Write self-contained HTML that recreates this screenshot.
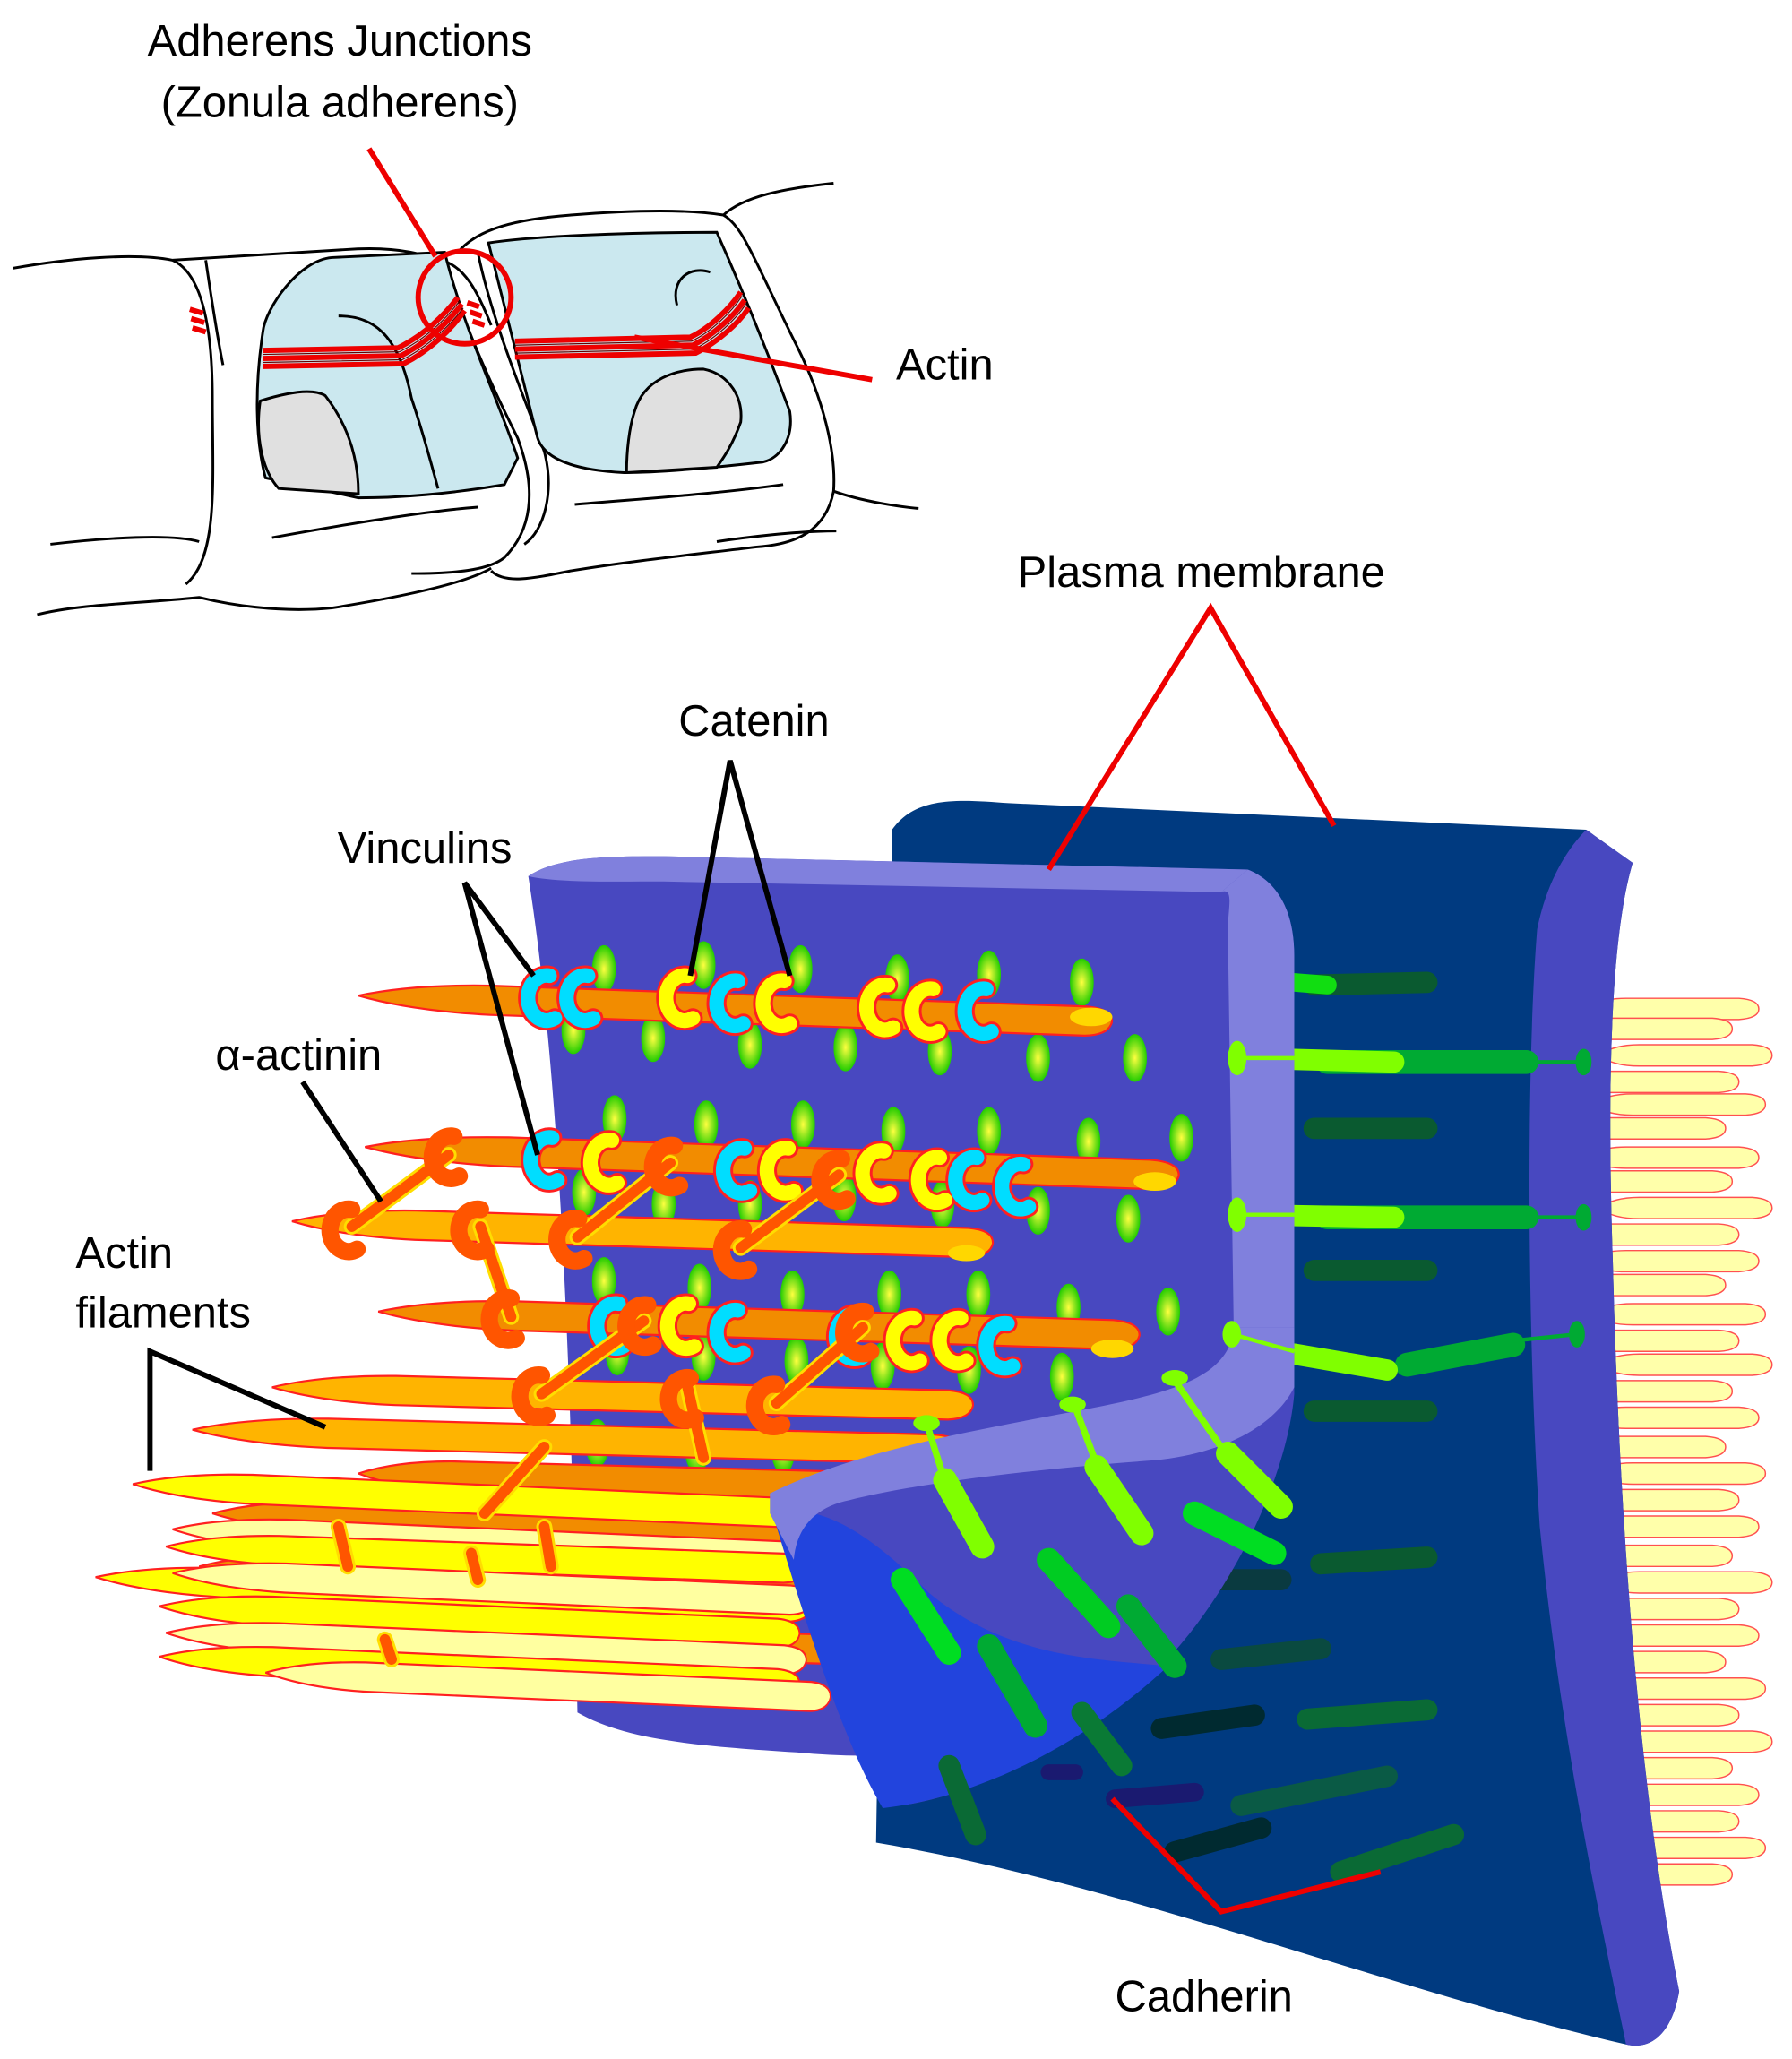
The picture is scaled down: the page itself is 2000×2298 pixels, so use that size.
<!DOCTYPE html>
<html><head><meta charset="utf-8"><style>
html,body{margin:0;padding:0;background:#fff}
svg{display:block}
text{font-family:"Liberation Sans",sans-serif;fill:#000}
</style></head><body>
<svg width="2000" height="2298" viewBox="0 0 1350 1551" preserveAspectRatio="none" xmlns="http://www.w3.org/2000/svg">
<defs>
<radialGradient id="gd" cx="0.5" cy="0.5" r="0.5"><stop offset="0" stop-color="#ffff40"/><stop offset="1" stop-color="#22cc00"/></radialGradient>
<path id="fil" d="M0,0 Q40,-10 100,-11 L548,-11 Q568,-10 568,0 Q566,10 548,11 L100,11 Q40,10 0,0 Z"/>
<ellipse id="dot" rx="9" ry="18" fill="url(#gd)"/>
<path id="pf" d="M0,0 Q10,-8 30,-8 L115,-8 Q130,-7 130,0 Q130,7 115,8 L30,8 Q10,8 0,0Z" fill="#ffffaa" stroke="#ff5050" stroke-width="1"/>
</defs>

<!-- ===== TOP SKETCH ===== -->
<g fill="none" stroke="#000" stroke-width="2">
<path d="M10,202 C50,195 100,190 130,196"/>
<path d="M130,196 C150,205 160,240 160,300 C160,360 165,420 140,440"/>
<path d="M38,410 C80,405 130,402 150,408"/>
<path d="M28,463 C60,455 100,455 150,450 C170,455 210,462 250,458 C300,450 350,440 370,428"/>
<path d="M130,196 C150,195 200,192 260,188 C300,185 325,192 336,200"/>
<path d="M336,200 C345,230 360,270 390,330 C405,370 400,400 380,420 C370,428 350,432 310,432"/>
<path d="M155,196 C160,230 165,260 168,275"/>
<path d="M205,405 C260,395 320,385 360,382"/>
<path d="M345,190 C360,172 390,165 430,162 C480,158 520,158 545,162 C560,170 570,200 600,260 C620,300 630,340 628,370 C622,400 600,410 570,412 C520,418 480,422 430,430 C400,436 380,440 370,430"/>
<path d="M360,190 C370,240 395,300 410,340 C418,370 410,400 395,410"/>
<path d="M545,162 C560,148 590,142 628,138"/>
<path d="M628,370 C650,378 680,382 692,383"/>
<path d="M433,380 C480,376 540,372 590,365"/>
<path d="M540,408 C560,405 600,400 630,400"/>
<path d="M332,196 C350,200 360,220 370,245"/>
</g>
<path d="M198,250 C200,232 225,196 250,194 L335,190 C350,250 375,300 390,345 L380,365 C340,372 300,375 270,375 L200,360 C192,330 192,290 198,250Z" fill="#cbe8ef" stroke="#000" stroke-width="2"/>
<path d="M196,302 C215,296 235,292 245,298 C262,320 270,345 270,372 L210,368 C198,355 192,330 196,302Z" fill="#e0e0e0" stroke="#000" stroke-width="2"/>
<path d="M368,183 C400,178 470,175 540,175 C560,220 580,270 595,310 C598,330 588,345 575,348 C540,352 500,356 470,356 C430,354 410,345 405,330 C395,290 385,250 368,183Z" fill="#cbe8ef" stroke="#000" stroke-width="2"/>
<path d="M478,310 C485,285 510,278 530,278 C550,282 560,300 558,318 C552,335 545,345 540,352 L472,356 C472,340 474,322 478,310Z" fill="#e0e0e0" stroke="#000" stroke-width="2"/>
<g fill="none" stroke="#000" stroke-width="2">
<path d="M255,238 C280,238 300,250 310,300 C320,330 325,350 330,368"/>
<path d="M510,230 C505,210 520,200 535,205"/>
</g>
<g fill="none" stroke="#e00" stroke-width="4">
<path d="M198,264 L300,262 C320,252 335,237 345,224"/>
<path d="M198,270 L302,268 C322,258 338,242 348,229"/>
<path d="M198,276 L304,274 C324,264 340,248 350,234"/>
<path d="M388,257 L520,254 C535,247 550,232 558,220"/>
<path d="M388,263 L522,260 C538,252 553,238 561,226"/>
<path d="M388,269 L524,266 C540,258 556,244 564,232"/>
<path d="M143,233 l10,3 M144,240 l10,3 M145,247 l10,3"/>
<path d="M352,228 l9,3 M354,235 l9,3 M356,242 l9,3"/>
</g>
<g fill="none" stroke="#600" stroke-width="0.8">
<path d="M198,267 L301,265 C321,255 336,240 346,227"/>
<path d="M198,273 L303,271 C323,261 339,245 349,232"/>
<path d="M388,260 L521,257 C536,250 551,235 559,223"/>
<path d="M388,266 L523,263 C539,255 554,241 562,229"/>
</g>
<circle cx="350" cy="224" r="35" fill="none" stroke="#e00" stroke-width="4"/>
<line x1="278" y1="112" x2="328" y2="193" stroke="#e00" stroke-width="4"/>
<line x1="478" y1="254" x2="657" y2="286" stroke="#e00" stroke-width="4"/>
<text x="256" y="42" font-size="33" text-anchor="middle">Adherens Junctions</text>
<text x="256" y="88" font-size="33" text-anchor="middle">(Zonula adherens)</text>
<text x="675" y="286" font-size="33">Actin</text>

<!-- ===== RIGHT PALE FILAMENTS ===== -->
<g>
<use href="#pf" x="1195" y="760"/><use href="#pf" x="1175" y="775"/><use href="#pf" x="1205" y="795"/><use href="#pf" x="1180" y="815"/><use href="#pf" x="1200" y="832"/><use href="#pf" x="1170" y="850"/><use href="#pf" x="1195" y="872"/><use href="#pf" x="1175" y="890"/><use href="#pf" x="1205" y="910"/><use href="#pf" x="1180" y="930"/><use href="#pf" x="1195" y="950"/><use href="#pf" x="1170" y="968"/><use href="#pf" x="1200" y="990"/><use href="#pf" x="1180" y="1010"/><use href="#pf" x="1205" y="1028"/><use href="#pf" x="1175" y="1048"/><use href="#pf" x="1195" y="1068"/><use href="#pf" x="1170" y="1090"/><use href="#pf" x="1200" y="1110"/><use href="#pf" x="1180" y="1130"/><use href="#pf" x="1195" y="1150"/><use href="#pf" x="1175" y="1172"/><use href="#pf" x="1205" y="1192"/><use href="#pf" x="1180" y="1212"/><use href="#pf" x="1195" y="1232"/><use href="#pf" x="1170" y="1252"/><use href="#pf" x="1200" y="1272"/><use href="#pf" x="1180" y="1292"/><use href="#pf" x="1205" y="1312"/><use href="#pf" x="1175" y="1332"/><use href="#pf" x="1195" y="1352"/><use href="#pf" x="1180" y="1372"/><use href="#pf" x="1200" y="1392"/><use href="#pf" x="1175" y="1412"/>
</g>

<!-- ===== BACK MEMBRANE ===== -->
<path d="M672,625 C690,600 720,602 760,605 L1195,625 L1230,650 C1215,700 1210,800 1215,950 C1220,1150 1235,1350 1265,1500 C1260,1530 1245,1545 1225,1540 C1050,1500 850,1420 660,1388 Z" fill="#003a80"/>
<path d="M1195,625 L1230,650 C1215,700 1210,800 1215,950 C1220,1150 1235,1350 1265,1500 C1260,1530 1245,1545 1225,1540 C1200,1420 1175,1300 1160,1150 C1150,1000 1150,800 1158,700 C1165,665 1180,640 1195,625Z" fill="#4848c0"/>

<g stroke-linecap="round" fill="none">
<path d="M990,742 L1075,740" stroke="#0a5a30" stroke-width="16"/>
<path d="M975,740 L1000,742" stroke="#11dd11" stroke-width="14"/>
<path d="M1000,800 L1150,800" stroke="#00aa33" stroke-width="18"/>
<path d="M935,797 L1050,800" stroke="#80ff00" stroke-width="16"/>
<path d="M990,850 L1075,850" stroke="#0a5a30" stroke-width="16"/>
<path d="M1000,917 L1150,917" stroke="#00aa33" stroke-width="18"/>
<path d="M935,915 L1050,917" stroke="#80ff00" stroke-width="16"/>
<path d="M990,957 L1075,957" stroke="#0a5a30" stroke-width="16"/>
<path d="M1060,1028 L1140,1013" stroke="#00aa33" stroke-width="18"/>
<path d="M975,1020 L1045,1032" stroke="#80ff00" stroke-width="16"/>
<path d="M990,1063 L1075,1063" stroke="#0a5a30" stroke-width="16"/>
<path d="M995,1178 L1075,1173" stroke="#0a5a30" stroke-width="16"/>
<path d="M920,1190 L965,1190" stroke="#0a3a40" stroke-width="16"/>
<path d="M920,1250 L995,1242" stroke="#0a4a40" stroke-width="16"/>
<path d="M985,1295 L1075,1288" stroke="#0a6a35" stroke-width="16"/>
<path d="M875,1302 L945,1292" stroke="#002a30" stroke-width="16"/>
<path d="M935,1360 L1045,1338" stroke="#0a5a45" stroke-width="16"/>
<path d="M885,1395 L950,1377" stroke="#002a30" stroke-width="16"/>
<path d="M1010,1410 L1095,1382" stroke="#0a6a35" stroke-width="16"/>
<path d="M840,1355 L900,1350" stroke="#1a1a70" stroke-width="14"/>
<path d="M790,1335 L810,1335" stroke="#1a1a70" stroke-width="12"/>
</g>
<g stroke="#00aa33" stroke-width="3" fill="none">
<path d="M1150,800 L1195,800 M1150,917 L1195,917 M1140,1010 L1188,1005"/>
</g>
<g fill="#00aa33"><ellipse cx="1193" cy="800" rx="6" ry="10"/><ellipse cx="1193" cy="917" rx="6" ry="10"/><ellipse cx="1188" cy="1005" rx="6" ry="10"/></g>

<!-- ===== FRONT MEMBRANE ===== -->
<path d="M398,660 C420,645 460,645 500,645 L940,655 C965,665 975,690 975,720 L975,1040 C970,1100 930,1200 870,1260 C800,1310 700,1330 600,1320 C520,1315 470,1310 435,1290 C430,1000 420,800 398,660Z" fill="#4848c0"/>
<path d="M398,660 C420,645 460,645 500,645 L940,655 L920,672 L500,664 C460,664 420,665 398,660Z" fill="#8080dd"/>
<path d="M940,655 C965,665 975,690 975,720 L975,1040 L930,1040 L925,700 C925,685 930,668 920,672Z" fill="#8080dd"/>

<g>
<use href="#dot" x="455" y="730"/><use href="#dot" x="530" y="727"/><use href="#dot" x="603" y="730"/><use href="#dot" x="676" y="737"/><use href="#dot" x="745" y="734"/><use href="#dot" x="815" y="740"/>
<use href="#dot" x="492" y="782"/><use href="#dot" x="565" y="787"/><use href="#dot" x="637" y="789"/><use href="#dot" x="708" y="792"/><use href="#dot" x="782" y="797"/><use href="#dot" x="855" y="797"/><use href="#dot" x="432" y="776"/>
<use href="#dot" x="463" y="843"/><use href="#dot" x="532" y="847"/><use href="#dot" x="605" y="847"/><use href="#dot" x="673" y="852"/><use href="#dot" x="745" y="852"/><use href="#dot" x="820" y="860"/><use href="#dot" x="890" y="857"/>
<use href="#dot" x="500" y="907"/><use href="#dot" x="565" y="907"/><use href="#dot" x="636" y="902"/><use href="#dot" x="710" y="907"/><use href="#dot" x="782" y="912"/><use href="#dot" x="850" y="918"/><use href="#dot" x="440" y="898"/>
<use href="#dot" x="455" y="965"/><use href="#dot" x="527" y="970"/><use href="#dot" x="597" y="975"/><use href="#dot" x="670" y="975"/><use href="#dot" x="737" y="975"/><use href="#dot" x="805" y="985"/><use href="#dot" x="880" y="988"/>
<use href="#dot" x="530" y="1022"/><use href="#dot" x="600" y="1025"/><use href="#dot" x="665" y="1029"/><use href="#dot" x="730" y="1032"/><use href="#dot" x="800" y="1037"/><use href="#dot" x="465" y="1018"/>
<use href="#dot" x="450" y="1087"/><use href="#dot" x="525" y="1092"/><use href="#dot" x="590" y="1092"/>
</g>

<!-- ===== FILAMENTS ===== -->
<g stroke="#ff2020" stroke-width="1.5">
<use href="#fil" transform="translate(270,1110) rotate(1.5) scale(0.7,1)" fill="#f28c00"/>
<use href="#fil" transform="translate(160,1140) rotate(1.5) scale(0.85,1)" fill="#f28c00"/>
<use href="#fil" transform="translate(150,1180) rotate(1.5) scale(0.85,1)" fill="#f28c00"/>
<use href="#fil" transform="translate(155,1230) rotate(1.5) scale(0.85,1)" fill="#f28c00"/>
<use href="#fil" transform="translate(100,1118) rotate(2.5) scale(0.9,1)" fill="#ffff00"/>
<use href="#fil" transform="translate(130,1152) rotate(2.5) scale(0.85,1)" fill="#ffffa0"/>
<use href="#fil" transform="translate(125,1165) rotate(2) scale(0.85,1)" fill="#ffff00"/>
<use href="#fil" transform="translate(72,1188) rotate(2.5) scale(0.95,1)" fill="#ffff00"/>
<use href="#fil" transform="translate(130,1185) rotate(2.5) scale(0.85,1)" fill="#ffffa0"/>
<use href="#fil" transform="translate(120,1210) rotate(2.5) scale(0.85,1)" fill="#ffff00"/>
<use href="#fil" transform="translate(125,1230) rotate(2.5) scale(0.85,1)" fill="#ffffa0"/>
<use href="#fil" transform="translate(120,1248) rotate(2.5) scale(0.85,1)" fill="#ffff00"/>
<use href="#fil" transform="translate(200,1260) rotate(2.5) scale(0.75,1)" fill="#ffffa0"/>
<use href="#fil" transform="translate(145,1077) rotate(1.5) scale(1.02,1)" fill="#ffb400"/>
<use href="#fil" transform="translate(205,1045) rotate(1.5) scale(0.93,1)" fill="#ffb400"/>
<use href="#fil" transform="translate(285,988) rotate(1.8) scale(1.01,1)" fill="#f28c00"/>
<use href="#fil" transform="translate(220,920) rotate(1.8) scale(0.93,1)" fill="#ffb400"/>
<use href="#fil" transform="translate(275,864) rotate(2) scale(1.08,1)" fill="#f28c00"/>
<use href="#fil" transform="translate(270,750) rotate(2) scale(1.0,1)" fill="#f28c00"/>
</g>
<g fill="#ffd700" stroke="none">
<ellipse cx="822" cy="766" rx="16" ry="7"/><ellipse cx="870" cy="890" rx="16" ry="7"/><ellipse cx="838" cy="1016" rx="16" ry="7"/><ellipse cx="728" cy="944" rx="14" ry="6"/>
</g>

<!-- clamps (bigger) -->
<g fill="none" stroke-linecap="round">
<g stroke="#ff2020" stroke-width="15">
<path d="M414,735 a14,17 0 1 0 4,32 M443,735 a14,17 0 1 0 4,32 M518,735 a14,17 0 1 0 4,32 M556,739 a14,17 0 1 0 4,32 M591,739 a14,17 0 1 0 4,32 M669,742 a14,17 0 1 0 4,32 M703,745 a14,17 0 1 0 4,32 M743,745 a14,17 0 1 0 4,32"/>
<path d="M416,857 a14,17 0 1 0 4,32 M461,859 a14,17 0 1 0 4,32 M561,865 a14,17 0 1 0 4,32 M594,865 a14,17 0 1 0 4,32 M666,867 a14,17 0 1 0 4,32 M708,872 a14,17 0 1 0 4,32 M736,872 a14,17 0 1 0 4,32 M771,877 a14,17 0 1 0 4,32"/>
<path d="M466,982 a14,17 0 1 0 4,32 M519,982 a14,17 0 1 0 4,32 M556,987 a14,17 0 1 0 4,32 M646,990 a14,17 0 1 0 4,32 M689,993 a14,17 0 1 0 4,32 M724,993 a14,17 0 1 0 4,32 M759,997 a14,17 0 1 0 4,32"/>
</g>
<g stroke-width="11">
<path stroke="#00ddff" d="M414,735 a14,17 0 1 0 4,32 M443,735 a14,17 0 1 0 4,32 M556,739 a14,17 0 1 0 4,32 M743,745 a14,17 0 1 0 4,32 M416,857 a14,17 0 1 0 4,32 M561,865 a14,17 0 1 0 4,32 M736,872 a14,17 0 1 0 4,32 M771,877 a14,17 0 1 0 4,32 M466,982 a14,17 0 1 0 4,32 M556,987 a14,17 0 1 0 4,32 M646,990 a14,17 0 1 0 4,32 M759,997 a14,17 0 1 0 4,32"/>
<path stroke="#ffff00" d="M518,735 a14,17 0 1 0 4,32 M591,739 a14,17 0 1 0 4,32 M669,742 a14,17 0 1 0 4,32 M703,745 a14,17 0 1 0 4,32 M461,859 a14,17 0 1 0 4,32 M594,865 a14,17 0 1 0 4,32 M666,867 a14,17 0 1 0 4,32 M708,872 a14,17 0 1 0 4,32 M519,982 a14,17 0 1 0 4,32 M689,993 a14,17 0 1 0 4,32 M724,993 a14,17 0 1 0 4,32"/>
</g>
<g stroke="#ffdd00" stroke-width="12">
<path d="M338,870 L265,924 M505,876 L435,932 M632,885 L558,940 M362,924 L385,992 M485,995 L408,1050 M650,1000 L585,1057 M518,1045 L530,1098 M410,1090 L365,1140 M255,1150 L262,1180 M410,1150 L415,1180 M355,1170 L360,1190 M290,1235 L295,1250"/>
</g>
<g stroke="#ff5500" stroke-width="8">
<path d="M338,870 L265,924 M505,876 L435,932 M632,885 L558,940 M362,924 L385,992 M485,995 L408,1050 M650,1000 L585,1057 M518,1045 L530,1098 M410,1090 L365,1140 M255,1150 L262,1180 M410,1150 L415,1180 M355,1170 L360,1190 M290,1235 L295,1250"/>
</g>
<g stroke="#ff5500" stroke-width="13">
<path d="M342,856 a14,16 0 1 0 4,30 M508,863 a14,16 0 1 0 4,30 M634,873 a14,16 0 1 0 4,30 M265,911 a14,16 0 1 0 4,30 M436,918 a14,16 0 1 0 4,30 M560,926 a14,16 0 1 0 4,30 M362,911 a14,16 0 1 0 4,30 M385,978 a14,16 0 1 0 4,30 M488,983 a14,16 0 1 0 4,30 M652,988 a14,16 0 1 0 4,30 M408,1036 a14,16 0 1 0 4,30 M585,1043 a14,16 0 1 0 4,30 M520,1038 a14,16 0 1 0 4,30"/>
</g>
</g>

<!-- ===== FOLD ===== -->
<path d="M580,1125 C640,1100 720,1080 800,1070 C880,1060 925,1040 930,1000 L975,1000 L975,1050 C970,1110 930,1200 870,1260 C800,1320 740,1350 680,1360 C640,1340 620,1260 580,1125Z" fill="#4848c0"/>
<path d="M582,1140 C620,1130 660,1160 700,1200 C760,1250 830,1250 880,1255 C810,1320 730,1355 665,1362 C640,1320 615,1250 582,1140Z" fill="#2244dd"/>
<path d="M580,1125 C640,1095 720,1080 800,1065 C880,1050 925,1040 930,1000 L975,1000 L975,1045 C960,1075 920,1095 870,1100 C800,1105 700,1115 640,1130 C615,1135 600,1150 598,1175 L580,1140Z" fill="#8080dd"/>
<g stroke-linecap="round" fill="none">
<path d="M698,1072 L710,1110" stroke="#80ff00" stroke-width="5"/>
<path d="M712,1115 L740,1165" stroke="#80ff00" stroke-width="18"/>
<path d="M810,1060 L825,1100" stroke="#80ff00" stroke-width="5"/>
<path d="M826,1105 L860,1155" stroke="#80ff00" stroke-width="18"/>
<path d="M885,1040 L920,1090" stroke="#80ff00" stroke-width="5"/>
<path d="M925,1095 L965,1135" stroke="#80ff00" stroke-width="18"/>
<path d="M790,1175 L835,1225" stroke="#00cc22" stroke-width="18"/>
<path d="M900,1140 L960,1170" stroke="#00dd22" stroke-width="18"/>
<path d="M680,1190 L715,1245" stroke="#00dd22" stroke-width="18"/>
<path d="M850,1210 L885,1255" stroke="#00aa33" stroke-width="18"/>
<path d="M745,1240 L780,1300" stroke="#00aa33" stroke-width="18"/>
<path d="M815,1290 L845,1330" stroke="#0a7a35" stroke-width="16"/>
<path d="M715,1330 L735,1382" stroke="#0a6a35" stroke-width="16"/>
</g>
<g fill="#80ff00">
<ellipse cx="698" cy="1072" rx="10" ry="6"/><ellipse cx="808" cy="1058" rx="10" ry="6"/><ellipse cx="885" cy="1038" rx="10" ry="6"/>
<ellipse cx="932" cy="797" rx="7" ry="13"/><ellipse cx="932" cy="915" rx="7" ry="13"/><ellipse cx="928" cy="1005" rx="7" ry="10"/>
</g>
<g stroke="#80ff00" stroke-width="3"><path d="M932,797 L975,797 M932,915 L975,915 M928,1005 L975,1018"/></g>

<!-- ===== LEADERS & LABELS ===== -->
<g fill="none" stroke-width="4">
<path d="M790,655 L912,458 L1005,622" stroke="#e00"/>
<path d="M838,1355 L920,1440 L1040,1410" stroke="#e00"/>
<path d="M520,735 L550,573 L595,735" stroke="#000"/>
<path d="M402,735 L350,665 L405,870" stroke="#000"/>
<path d="M228,815 L287,905" stroke="#000"/>
<path d="M113,1108 L113,1018 L245,1075" stroke="#000"/>
</g>
<text x="905" y="442" font-size="33" text-anchor="middle">Plasma membrane</text>
<text x="568" y="554" font-size="33" text-anchor="middle">Catenin</text>
<text x="320" y="650" font-size="33" text-anchor="middle">Vinculins</text>
<text x="225" y="806" font-size="33" text-anchor="middle">α-actinin</text>
<text x="57" y="955" font-size="33">Actin</text>
<text x="57" y="1000" font-size="33">filaments</text>
<text x="907" y="1515" font-size="33" text-anchor="middle">Cadherin</text>
</svg>
</body></html>
